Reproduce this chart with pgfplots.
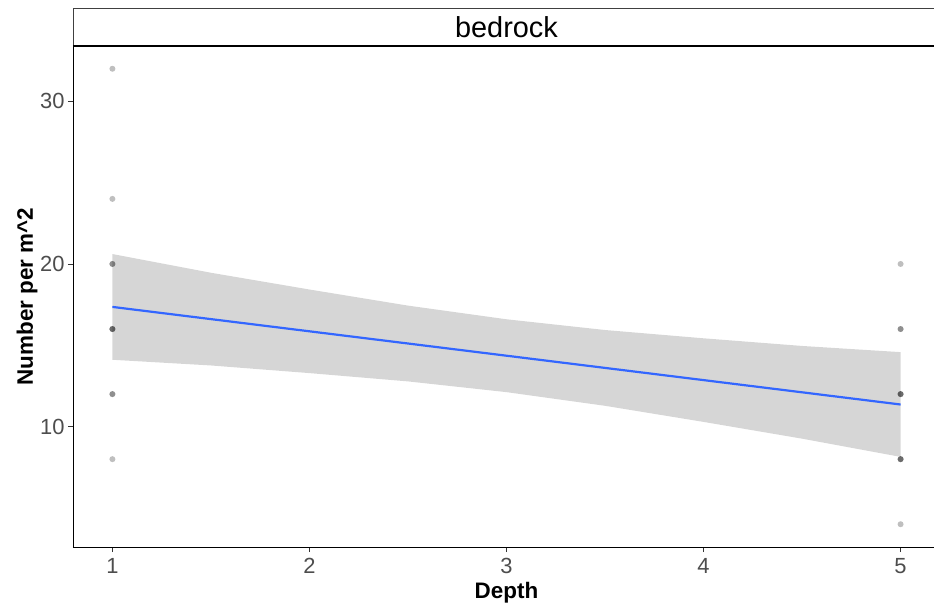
\documentclass[border=0pt]{standalone}
\usepackage{pgfplots}
\pgfplotsset{compat=1.18}
\usepackage{fontspec}
\setmainfont{Liberation Sans}
\definecolor{fitblue}{RGB}{51,102,255}
\definecolor{tickgrey}{RGB}{77,77,77}
\definecolor{bandgrey}{RGB}{153,153,153}
\begin{document}
\begin{tikzpicture}
\begin{axis}[
  scale only axis,
  width=867bp, height=501bp,
  xmin=0.8, xmax=5.2, ymin=2.6, ymax=33.4,
  axis x line*=bottom, axis y line*=left,
  axis line style={black, line width=0.9bp, -},
  xtick={1,2,3,4,5}, ytick={10,20,30},
  tick align=outside,
  major tick length=5bp,
  tick style={color=black!80, line width=0.8bp},
  /pgf/number format/assume math mode=true,
  ticklabel style={font=\fontsize{22}{24}\selectfont, color=tickgrey},
  xticklabel style={yshift=-3bp},
  xlabel={Depth}, ylabel={Number per m\^{}2},
  label style={font=\fontsize{22.5}{24}\selectfont\bfseries},
  xlabel style={at={(axis description cs:0.5,-0.0918)}, anchor=center},
  ylabel style={at={(axis description cs:-0.053,0.5)}, anchor=center},
  clip=false,
]
% points (alpha overlap)
\addplot[only marks, mark=*, mark size=3bp, line width=0pt,
  mark options={solid, draw opacity=0, fill=black, fill opacity=0.25}]
coordinates {
 (1,32) (1,24) (1,20) (1,20) (1,16) (1,16) (1,16) (1,12) (1,12) (1,8)
 (5,20) (5,16) (5,16) (5,12) (5,12) (5,12) (5,8) (5,8) (5,8) (5,4)
};
% confidence band
\addplot[draw=none, fill=bandgrey, fill opacity=0.4] coordinates {
 (1,20.61) (1.5,19.46) (2,18.43) (2.5,17.44) (3,16.60) (3.5,15.94) (4,15.43) (4.5,14.96) (5,14.58)
 (5,8.14) (4.5,9.26) (4,10.29) (3.5,11.28) (3,12.12) (2.5,12.78) (2,13.29) (1.5,13.76) (1,14.11)
} -- cycle;
% fit
\addplot[fitblue, line width=2.2bp] coordinates {(1,17.36) (5,11.36)};
% strip
\draw[black!75, line width=0.8bp] (rel axis cs:0,1) -- ([yshift=38bp]rel axis cs:0,1) -- ([yshift=38bp]rel axis cs:1,1);
\draw[black, line width=2bp] (rel axis cs:0,1) -- (rel axis cs:1,1);
\node[font=\fontsize{29}{31}\selectfont, anchor=center] at ([yshift=19bp]rel axis cs:0.5,1) {bedrock};
\end{axis}
\pgfresetboundingbox
\path[use as bounding box] (-73bp,-56bp) rectangle (861bp,547bp);
\end{tikzpicture}
\end{document}
